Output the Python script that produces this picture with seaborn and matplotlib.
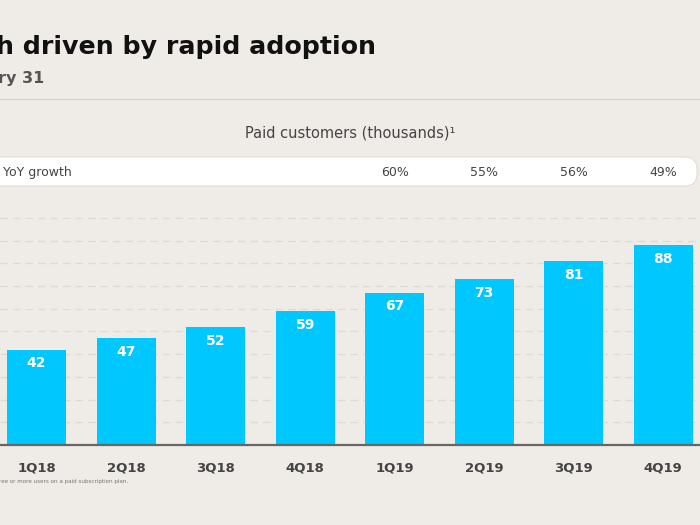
import seaborn as sns
import pandas as pd
import matplotlib.pyplot as plt
from matplotlib.patches import FancyBboxPatch

quarters = ["1Q18", "2Q18", "3Q18", "4Q18", "1Q19", "2Q19", "3Q19", "4Q19"]
customers = [42, 47, 52, 59, 67, 73, 81, 88]
growth_quarters = ["1Q19", "2Q19", "3Q19", "4Q19"]
growth = ["60%", "55%", "56%", "49%"]

bg = "#EFEBE7"
bar_color = "#00C8FF"
dark = "#444444"

sns.set_theme(style="white")
plt.rcParams["font.family"] = ["DejaVu Sans"]

df = pd.DataFrame({"quarter": quarters, "customers": customers})

fig = plt.figure(figsize=(7, 5.25), dpi=100, facecolor=bg)
ax = fig.add_axes([0, 80 / 525, 1, 240 / 525])
ax.set_facecolor(bg)

sns.barplot(data=df, x="quarter", y="customers", color=bar_color,
            width=0.66, saturation=1, linewidth=0, ax=ax, zorder=2)

ax.set_xlim(-0.408, 7.41)
ax.set_ylim(0, 105.7)
ax.set_yticks(range(10, 101, 10))
ax.yaxis.grid(True, color="#DEDAD5", linestyle=(0, (6, 4)), linewidth=0.9)
ax.set_axisbelow(True)
ax.tick_params(axis="y", left=False, labelleft=False)
ax.tick_params(axis="x", bottom=False, pad=6, labelsize=9.5, labelcolor=dark)
for lbl in ax.get_xticklabels():
    lbl.set_fontweight("bold")
ax.set_xlabel("")
ax.set_ylabel("")
for side in ["top", "left", "right"]:
    ax.spines[side].set_visible(False)
ax.spines["bottom"].set_color("#666666")
ax.spines["bottom"].set_linewidth(1.6)

# value labels inside bars
for i, v in enumerate(customers):
    ax.text(i, v - 6, str(v), ha="center", va="center", color="white",
            fontsize=10, fontweight="bold", zorder=3)

# title area (slide is cropped on the left)
fig.text(-0.005, 1 - 47 / 525, "h driven by rapid adoption", fontsize=18.2,
         fontweight="bold", color="#111111", va="center", ha="left")
fig.text(-0.003, 1 - 78 / 525, "ry 31", fontsize=11.5, fontweight="bold",
         color="#555555", va="center", ha="left")
fig.add_artist(plt.Line2D([0, 1], [1 - 99 / 525] * 2, color="#D9D4CF", lw=1))

fig.text(0.5, 1 - 133 / 525, "Paid customers (thousands)\u00b9", fontsize=10.5,
         color=dark, ha="center", va="center")

# YoY growth pill
pill = FancyBboxPatch((-10 / 700, 1 - 186 / 525), 707 / 700, 29 / 525,
                      boxstyle="round,pad=0,rounding_size=0.018",
                      transform=fig.transFigure, facecolor="white",
                      edgecolor="#E2DDD8", lw=0.8, mutation_aspect=700 / 525)
fig.add_artist(pill)
fig.text(3 / 700, 1 - 172 / 525, "YoY growth", fontsize=9, color=dark,
         ha="left", va="center")
for q, g in zip(growth_quarters, growth):
    i = quarters.index(q)
    xf = fig.transFigure.inverted().transform(ax.transData.transform((i, 0)))[0]
    fig.text(xf, 1 - 172 / 525, g, fontsize=9, color=dark, ha="center", va="center")

fig.text(-0.002, 1 - 481 / 525, "ree or more users on a paid subscription plan.",
         fontsize=4.1, color="#777777", ha="left", va="center")

fig.savefig("out.png", dpi=100, facecolor=bg)
